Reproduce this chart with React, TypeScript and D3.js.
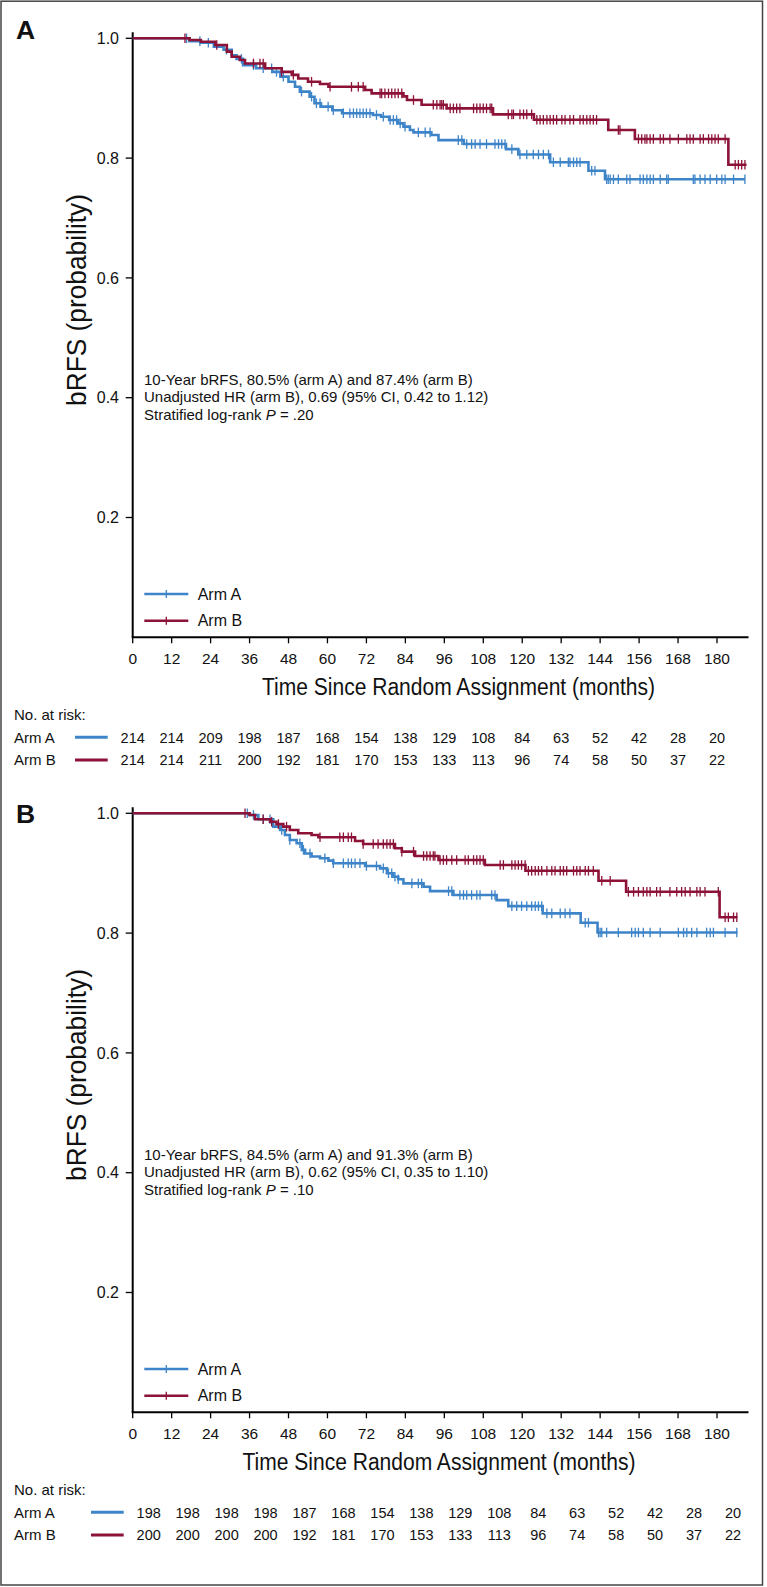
import React from 'react';
import * as d3 from 'd3';

// ---------- data ----------
const xTicks = [0, 12, 24, 36, 48, 60, 72, 84, 96, 108, 120, 132, 144, 156, 168, 180];
const yTicks = [0.2, 0.4, 0.6, 0.8, 1.0];
const yTickLabels = ['0.2', '0.4', '0.6', '0.8', '1.0'];
const armNames = ['Arm A', 'Arm B'];

// Panel A, Arm A (blue): [month, survival after step]
const aArmASteps: [number, number][] = [
  [17.5, 0.9953], [21, 0.9925], [25, 0.986], [28, 0.981], [30.5, 0.9717], [32, 0.9657],
  [34, 0.955], [38, 0.95], [43, 0.944], [45.5, 0.936], [48, 0.9275], [50, 0.919],
  [51.5, 0.911], [54.5, 0.9025], [56, 0.8915], [58, 0.886], [61.5, 0.88], [64.5, 0.875],
  [74, 0.872], [76.5, 0.869], [79, 0.8636], [81.8, 0.858], [83.4, 0.8525], [85.4, 0.847],
  [86.5, 0.843], [92, 0.8386], [94.2, 0.83], [102, 0.8235], [115, 0.815], [118.8, 0.806],
  [128.6, 0.793], [140.4, 0.779], [145.5, 0.7646],
];
const aArmAEnd = 188.6;
const aArmACensor = [
  16.6, 20.7, 23.3, 28.9, 33.5, 37.2, 40.2, 42.8, 44.3, 46.4, 52, 55.1, 56.6, 57.7, 60.2,
  61.8, 64.9, 66.9, 68, 69, 70, 71, 72, 73.1, 75.1, 77.2, 79.3, 80.3, 81.3, 82.4, 83.9,
  88, 90.1, 91.6, 100.3, 101.4, 102.9, 104.4, 105.5, 107, 109, 111.6, 112.7, 113.7, 114.7,
  116.8, 119.3, 121.4, 123.4, 125, 126.5, 128.1, 129.6, 131.7, 134.2, 134.7, 135.8, 136.8,
  137.8, 141.4, 142.4, 146, 146.5, 147.1, 148.1, 149.6, 152.2, 153.2, 156.3, 157.3, 158.4,
  159.4, 160.4, 162.5, 164.5, 165, 172.7, 173.2, 174.8, 176.3, 177.9, 179.9, 181.5, 182.5,
  185.1, 188.6,
];

// Panel A, Arm B (red)
const aArmBSteps: [number, number][] = [
  [17.5, 0.9972], [21, 0.9943], [25.4, 0.9888], [29, 0.9777], [30.5, 0.9693], [33, 0.9638],
  [34.6, 0.958], [40.8, 0.95], [45.9, 0.944], [49, 0.939], [51, 0.933], [54, 0.9275],
  [57.7, 0.9237], [60.3, 0.919], [71.6, 0.9137], [73.6, 0.908], [83.4, 0.903], [84.5, 0.897],
  [89, 0.889], [96.7, 0.883], [111, 0.873], [123.6, 0.864], [146.5, 0.847], [154.7, 0.832],
  [183.5, 0.789],
];
const aArmBEnd = 189.1;
const aArmBCensor = [
  16.1, 25.9, 37.2, 39.2, 40.2, 45.9, 49.5, 55.1, 60.8, 67.4, 69.5, 71, 76.2, 76.7, 77.7,
  78.8, 79.8, 80.8, 81.8, 82.9, 86.5, 92.6, 93.7, 94.7, 95.2, 95.7, 97.8, 98.8, 99.8, 100.8,
  105, 106, 107, 108, 109, 110.1, 110.6, 115.7, 116.8, 117.3, 119.3, 120.4, 121.4, 122.9,
  124.5, 125.5, 126.5, 127.6, 128.6, 129.6, 130.6, 132.2, 133.2, 134.7, 135.8, 137.8, 138.8,
  139.9, 140.9, 141.9, 142.9, 149.6, 150.1, 155.8, 156.8, 157.8, 158.4, 159.4, 160.4, 162.5,
  163.5, 165.5, 168.1, 170.7, 171.7, 172.7, 174.8, 175.8, 177.4, 178.4, 179.4, 180.4, 182.5,
  185.6, 186.6, 187.6, 188.6,
];

// Panel B, Arm A (blue)
const bArmASteps: [number, number][] = [
  [36, 0.9972], [38.7, 0.99], [43.3, 0.9777], [45.4, 0.972], [46.9, 0.9638], [48.4, 0.9555],
  [50.5, 0.95], [52.1, 0.939], [53.1, 0.933], [55.1, 0.928], [57.7, 0.925], [60.3, 0.921],
  [61.8, 0.9165], [71.6, 0.912], [76.2, 0.908], [78.3, 0.9], [80.3, 0.894], [81.8, 0.8898],
  [83.4, 0.883], [89.6, 0.8775], [91.6, 0.87], [98.8, 0.8636], [112.1, 0.855], [115.7, 0.845],
  [126.3, 0.833], [138, 0.8174], [143.2, 0.801],
];
const bArmAEnd = 186.3;
const bArmACensor = [
  35.3, 37.2, 40.2, 42.3, 45.9, 48.4, 51.5, 52.6, 54.6, 59.2, 61.8, 64.9, 66.4, 67.4, 68.5,
  70, 72, 75.1, 77.2, 78.8, 79.8, 80.8, 81.8, 86, 88, 89, 97.3, 98.3, 100.8, 101.9, 102.9,
  104.4, 106, 107, 110.6, 111.6, 116.8, 118.3, 119.8, 121.4, 122.9, 124, 125, 126, 127.6,
  129.1, 131.7, 133.2, 134.7, 139.4, 140.4, 143.5, 144, 144.5, 146, 149.6, 153.7, 154.8,
  155.8, 157.3, 159.4, 162.5, 168.1, 169.7, 170.7, 172.2, 173.8, 176.8, 177.9, 178.9, 182.5,
  186.1,
];

// Panel B, Arm B (red)
const bArmBSteps: [number, number][] = [
  [36, 0.9972], [37.7, 0.99], [42.3, 0.986], [44.3, 0.982], [46.4, 0.9777], [48.4, 0.972],
  [51, 0.9666], [55.1, 0.9638], [57.2, 0.96], [68.5, 0.9538], [71, 0.9488], [80.8, 0.9416],
  [82.9, 0.936], [87, 0.9287], [94.2, 0.922], [108.5, 0.9137], [121, 0.904], [143.5, 0.8875],
  [152, 0.869], [180.8, 0.8264],
];
const bArmBEnd = 186.3;
const bArmBCensor = [
  34.6, 40.2, 42.8, 44.9, 47.4, 57.7, 63.8, 64.9, 66.4, 67.4, 71, 74.1, 75.6, 77.2, 78.3,
  79.3, 80.3, 82.9, 86.5, 89.6, 90.6, 91.6, 92.6, 93.1, 94.7, 95.7, 96.7, 98.3, 99.8, 102.4,
  103.4, 105, 106, 107, 108, 113.2, 114.2, 116.8, 117.8, 118.8, 119.8, 120.9, 121.9, 122.9,
  124, 125, 126, 127.6, 129.1, 130.1, 131.7, 132.7, 133.7, 135.8, 136.8, 137.8, 139.4, 140.4,
  141.9, 144.5, 147.1, 152.7, 154.3, 155.8, 157.3, 158.4, 159.4, 161.4, 162.5, 165.5, 167.6,
  169.1, 170.2, 171.7, 173.8, 174.8, 176.3, 180.4, 182.5, 183.5, 185.1, 186.1,
];

// Numbers at risk
const aRiskA = [214, 214, 209, 198, 187, 168, 154, 138, 129, 108, 84, 63, 52, 42, 28, 20];
const aRiskB = [214, 214, 211, 200, 192, 181, 170, 153, 133, 113, 96, 74, 58, 50, 37, 22];
const bRiskA = [198, 198, 198, 198, 187, 168, 154, 138, 129, 108, 84, 63, 52, 42, 28, 20];
const bRiskB = [200, 200, 200, 200, 192, 181, 170, 153, 133, 113, 96, 74, 58, 50, 37, 22];

// Annotations
const aNotes = [
  '10-Year bRFS, 80.5% (arm A) and 87.4% (arm B)',
  'Unadjusted HR (arm B), 0.69 (95% CI, 0.42 to 1.12)',
];
const aPValue = ' = .20';
const bNotes = [
  '10-Year bRFS, 84.5% (arm A) and 91.3% (arm B)',
  'Unadjusted HR (arm B), 0.62 (95% CI, 0.35 to 1.10)',
];
const bPValue = ' = .10';

// ---------- styles ----------
const BLUE = '#3d84c8';
const RED = '#8c1237';
const FONT = '"Liberation Sans", Arial, Helvetica, sans-serif';

const x = d3.scaleLinear().domain([0, 180]).range([132.7, 717]);
const y = d3.scaleLinear().domain([0, 1]).range([637.3, 38.3]);

function survAt(steps: [number, number][], t: number) {
  let s = 1;
  for (const [ts, v] of steps) if (ts <= t) s = v;
  return s;
}

const stepLine = d3
  .line<[number, number]>()
  .x((d) => x(d[0]))
  .y((d) => y(d[1]))
  .curve(d3.curveStepAfter);

function Curve({ steps, end, censor, color }: any) {
  const pts: [number, number][] = [[0, 1], ...steps, [end, steps[steps.length - 1][1]]];
  return (
    <g>
      <path d={stepLine(pts) || ''} fill="none" stroke={color} strokeWidth={2.6} />
      {censor.map((t: number, i: number) => {
        const cy = y(survAt(steps, t));
        return (
          <line key={i} x1={x(t)} x2={x(t)} y1={cy - 4.8} y2={cy + 4.8} stroke={color} strokeWidth={1.3} />
        );
      })}
    </g>
  );
}

function Panel({ dy, letter, letterY, curves, notes, pValue, riskA, riskB, riskShift, titleCx }: any) {
  const xEnd = x(189.7);
  return (
    <g transform={`translate(0,${dy})`} fontFamily={FONT}>
      <text x={16} y={letterY} fontSize={26.5} fontWeight="bold" fill="#111">{letter}</text>
      {/* axes */}
      <line x1={x(0)} x2={x(0)} y1={y(1.01)} y2={y(0)} stroke="#000" strokeWidth={2} />
      <line x1={x(0) - 1} x2={xEnd} y1={y(0)} y2={y(0)} stroke="#000" strokeWidth={2} />
      {yTicks.map((v, i) => (
        <g key={i}>
          <line x1={x(0) - 7} x2={x(0)} y1={y(v)} y2={y(v)} stroke="#000" strokeWidth={1.3} />
          <text x={119} y={y(v)} dy="0.36em" textAnchor="end" fontSize={16} fill="#111">{yTickLabels[i]}</text>
        </g>
      ))}
      {xTicks.map((v, i) => (
        <g key={i}>
          <line x1={x(v)} x2={x(v)} y1={y(0)} y2={y(0) + 6} stroke="#000" strokeWidth={1.3} />
          <text x={x(v)} y={658} dy="0.36em" textAnchor="middle" fontSize={15.5} fill="#111">{v}</text>
        </g>
      ))}
      <text
        transform={`translate(86,300) rotate(-90)`}
        textAnchor="middle"
        fontSize={27}
        textLength={212}
        lengthAdjust="spacingAndGlyphs"
        fill="#111"
      >
        bRFS (probability)
      </text>
      <text x={titleCx} y={695} textAnchor="middle" fontSize={23} textLength={393} lengthAdjust="spacingAndGlyphs" fill="#111">
        Time Since Random Assignment (months)
      </text>
      {/* annotation */}
      <g fontSize={15} fill="#111">
        <text x={144} y={379.3} dy="0.36em">{notes[0]}</text>
        <text x={144} y={396.7} dy="0.36em">{notes[1]}</text>
        <text x={144} y={414.3} dy="0.36em">
          Stratified log-rank <tspan fontStyle="italic">P</tspan>{pValue}
        </text>
      </g>
      {/* legend */}
      {[BLUE, RED].map((c, i) => {
        const ly = 594 + i * 26.7;
        return (
          <g key={i}>
            <line x1={144.3} x2={188.3} y1={ly} y2={ly} stroke={c} strokeWidth={2.6} />
            <line x1={166.3} x2={166.3} y1={ly - 4} y2={ly + 4} stroke={c} strokeWidth={1.3} />
            <text x={197.7} y={ly} dy="0.36em" fontSize={16} fill="#111">{armNames[i]}</text>
          </g>
        );
      })}
      {/* curves */}
      {curves.map((c: any, i: number) => (
        <Curve key={i} {...c} />
      ))}
      {/* risk table */}
      <g fontSize={15} fill="#111">
        <text x={14} y={715} dy="0.36em">No. at risk:</text>
        {[riskA, riskB].map((row: number[], r: number) => {
          const ry = 737.3 + r * 22.7;
          return (
            <g key={r}>
              <text x={14} y={ry} dy="0.36em">{armNames[r]}</text>
              <line x1={75 + riskShift} x2={107.7 + riskShift} y1={ry} y2={ry} stroke={r === 0 ? BLUE : RED} strokeWidth={3} />
              {row.map((n, i) => (
                <text key={i} x={x(xTicks[i]) + riskShift} y={ry} dy="0.36em" textAnchor="middle" fontSize={14.5}>
                  {n}
                </text>
              ))}
            </g>
          );
        })}
      </g>
    </g>
  );
}

export default function App() {
  return (
    <svg
      width={767}
      height={1587}
      viewBox="0 0 767 1587"
      style={{ position: 'absolute', left: 0, top: 0, background: '#fff' }}
    >
      <rect x={0} y={0} width={767} height={1587} fill="#fff" />
      <rect x={1} y={1.2} width={761.5} height={1583.8} fill="none" stroke="#444" strokeWidth={1.5} />
      <Panel
        dy={0}
        letter="A"
        letterY={39.3}
        curves={[
          { steps: aArmASteps, end: aArmAEnd, censor: aArmACensor, color: BLUE },
          { steps: aArmBSteps, end: aArmBEnd, censor: aArmBCensor, color: RED },
        ]}
        notes={aNotes}
        pValue={aPValue}
        riskA={aRiskA}
        riskB={aRiskB}
        riskShift={0}
        titleCx={458.5}
      />
      <Panel
        dy={775}
        letter="B"
        letterY={48.3}
        curves={[
          { steps: bArmASteps, end: bArmAEnd, censor: bArmACensor, color: BLUE },
          { steps: bArmBSteps, end: bArmBEnd, censor: bArmBCensor, color: RED },
        ]}
        notes={bNotes}
        pValue={bPValue}
        riskA={bRiskA}
        riskB={bRiskB}
        riskShift={16}
        titleCx={439}
      />
    </svg>
  );
}
